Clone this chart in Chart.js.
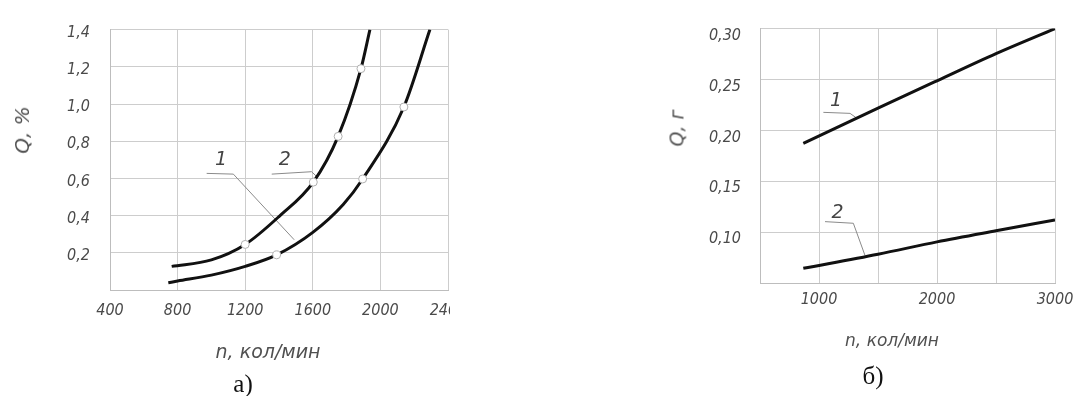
<!DOCTYPE html>
<html lang="ru">
<head>
<meta charset="utf-8">
<script src="https://cdn.jsdelivr.net/npm/chart.js@4.4.1/dist/chart.umd.min.js"></script>
<style>
  html, body { margin: 0; padding: 0; background: #fff; }
  body { width: 1081px; height: 396px; position: relative; overflow: hidden; }
  .box { position: absolute; top: 0; height: 396px; overflow: hidden; }
  #boxA { left: 0; width: 450px; }
  #boxB { left: 640px; width: 441px; }
  .txt {
    position: absolute; color: #505050; font-style: italic; white-space: nowrap; line-height: 1;
    font-family: "DejaVu Sans", sans-serif;
  }
  .ytitle { transform: translate(-50%, -50%) rotate(-90deg); }
  .xtitle { transform: translate(-50%, -50%); }
  .cap {
    position: absolute; font-family: "Liberation Serif", serif; font-size: 25px; color: #111;
    transform: translate(-50%, -50%); line-height: 1;
  }
</style>
</head>
<body>
<div class="box" id="boxA"><canvas id="chartA" width="480" height="396"></canvas></div>
<div class="box" id="boxB"><canvas id="chartB" width="441" height="396"></canvas></div>

<div class="txt ytitle" style="left:22px; top:130px; font-size:20px;">Q, %</div>
<div class="txt xtitle" style="left:268px; top:351px; font-size:19px;">n, кол/мин</div>
<div class="cap" style="left:243px; top:383px;">а)</div>

<div class="txt ytitle" style="left:677px; top:128px; font-size:19px;">Q, г</div>
<div class="txt xtitle" style="left:892px; top:340px; font-size:17px;">n, кол/мин</div>
<div class="cap" style="left:873px; top:375px;">б)</div>

<script>
  "use strict";

  // --- chart a): Q, % vs n, кол/мин ---
  const A_CURVE1_N = [745, 800, 1000, 1200, 1386, 1600, 1780, 1895, 2139, 2293];
  const A_CURVE1_Q = [0.039, 0.048, 0.08, 0.127, 0.189, 0.31, 0.46, 0.597, 0.984, 1.40];
  const A_CURVE2_N = [765, 1000, 1200, 1400, 1603, 1750, 1885, 1938];
  const A_CURVE2_Q = [0.127, 0.162, 0.245, 0.395, 0.58, 0.826, 1.19, 1.40];
  const A_MARK1_N = [1386, 1895, 2139];
  const A_MARK1_Q = [0.189, 0.597, 0.984];
  const A_MARK2_N = [1200, 1603, 1750, 1885];
  const A_MARK2_Q = [0.245, 0.58, 0.826, 1.19];
  const A_X_TICKS = [400, 800, 1200, 1600, 2000, 2400];
  const A_Y_TICKS = [0, 0.2, 0.4, 0.6, 0.8, 1.0, 1.2, 1.4];
  const A_LABELS = [
    { text: "1", n: 1057, q: 0.70 },
    { text: "2", n: 1435, q: 0.70 },
  ];
  const A_LEADERS = [
    [[972, 0.627], [1130, 0.623], [1490, 0.27]],
    [[1357, 0.623], [1593, 0.636], [1623, 0.61]],
  ];

  // --- chart б): Q, г vs n, кол/мин ---
  const B_LINE1_N = [867, 1500, 2000, 2500, 3000];
  const B_LINE1_Q = [0.1872, 0.2218, 0.2487, 0.2754, 0.30];
  const B_LINE2_N = [867, 1500, 2000, 2500, 3000];
  const B_LINE2_Q = [0.0644, 0.0783, 0.0904, 0.1013, 0.1119];
  const B_X_TICKS = [500, 1000, 1500, 2000, 2500, 3000];
  const B_X_LABELED = [1000, 2000, 3000];
  const B_Y_TICKS = [0.05, 0.10, 0.15, 0.20, 0.25, 0.30];
  const B_LABELS = [
    { text: "1", n: 1144, q: 0.229 },
    { text: "2", n: 1158, q: 0.1192 },
  ];
  const B_LEADERS = [
    [[1037, 0.2177], [1263, 0.2167], [1320, 0.212]],
    [[1051, 0.1103], [1291, 0.1087], [1390, 0.077]],
  ];

  const TICK_FONT = { family: '"DejaVu Sans Condensed", "DejaVu Sans", sans-serif', size: 16, style: "italic" };
  const TICK_COLOR = "#4a4a4a";
  const GRID_COLOR = "#cdcdcd";

  function pts(xs, ys) {
    return xs.map(function (x, i) { return { x: x, y: ys[i] }; });
  }

  function curve(xs, ys) {
    return {
      type: "line",
      data: pts(xs, ys),
      borderColor: "#111",
      borderWidth: 3,
      pointRadius: 0,
      cubicInterpolationMode: "monotone",
      fill: false,
      order: 2,
    };
  }

  function markers(xs, ys) {
    return {
      type: "scatter",
      data: pts(xs, ys),
      pointRadius: 4,
      pointBackgroundColor: "#fff",
      pointBorderColor: "#b0b0b0",
      pointBorderWidth: 1,
      showLine: false,
      order: 1,
    };
  }

  // draws the "1" / "2" callouts with their thin leader lines
  function calloutPlugin(labels, leaders) {
    return {
      id: "callouts",
      beforeDatasetsDraw: function (chart) {
        const ctx = chart.ctx;
        const xs = chart.scales.x;
        const ys = chart.scales.y;
        ctx.save();
        ctx.strokeStyle = "#8a8a8a";
        ctx.lineWidth = 1;
        leaders.forEach(function (line) {
          ctx.beginPath();
          line.forEach(function (p, i) {
            const px = xs.getPixelForValue(p[0]);
            const py = ys.getPixelForValue(p[1]);
            if (i === 0) ctx.moveTo(px, py); else ctx.lineTo(px, py);
          });
          ctx.stroke();
        });
        ctx.fillStyle = "#444";
        ctx.font = 'italic 19px "DejaVu Sans", sans-serif';
        ctx.textAlign = "center";
        ctx.textBaseline = "middle";
        labels.forEach(function (l) {
          ctx.fillText(l.text, xs.getPixelForValue(l.n), ys.getPixelForValue(l.q));
        });
        ctx.restore();
      },
    };
  }

  function baseScales(o) {
    return {
      x: {
        type: "linear",
        min: o.xTicks[0],
        max: o.xTicks[o.xTicks.length - 1],
        afterBuildTicks: function (s) { s.ticks = o.xTicks.map(function (v) { return { value: v }; }); },
        afterFit: function (s) { s.height = o.xHeight; },
        ticks: {
          font: TICK_FONT,
          color: TICK_COLOR,
          padding: o.xPad,
          maxRotation: 0,
          autoSkip: false,
          callback: o.xFmt,
        },
        grid: { color: GRID_COLOR, lineWidth: 1, drawTicks: false },
        border: { color: "#bdbdbd" },
      },
      y: {
        type: "linear",
        min: o.yTicks[0],
        max: o.yTicks[o.yTicks.length - 1],
        afterBuildTicks: function (s) { s.ticks = o.yTicks.map(function (v) { return { value: v }; }); },
        afterFit: function (s) { s.width = o.yWidth; },
        ticks: {
          font: TICK_FONT,
          color: TICK_COLOR,
          padding: o.yPad,
          labelOffset: o.yLabelOffset,
          callback: o.yFmt,
        },
        grid: { color: GRID_COLOR, lineWidth: 1, drawTicks: false },
        border: { color: "#bdbdbd" },
      },
    };
  }

  function commonOptions(padding, scales) {
    return {
      responsive: false,
      animation: false,
      events: [],
      layout: { autoPadding: false, padding: padding },
      plugins: { legend: { display: false }, tooltip: { enabled: false } },
      scales: scales,
    };
  }

  new Chart(document.getElementById("chartA"), {
    type: "line",
    data: {
      datasets: [
        curve(A_CURVE1_N, A_CURVE1_Q),
        curve(A_CURVE2_N, A_CURVE2_Q),
        markers(A_MARK1_N, A_MARK1_Q),
        markers(A_MARK2_N, A_MARK2_Q),
      ],
    },
    options: commonOptions(
      { left: 0, top: 23, right: 32, bottom: 0 },
      baseScales({
        xTicks: A_X_TICKS,
        yTicks: A_Y_TICKS,
        xHeight: 106,
        yWidth: 110,
        xPad: 11,
        yPad: 20,
        yLabelOffset: 3,
        xFmt: function (v) { return String(v); },
        yFmt: function (v) { return v === 0 ? "" : v.toFixed(1).replace(".", ","); },
      })
    ),
    plugins: [calloutPlugin(A_LABELS, A_LEADERS)],
  });

  new Chart(document.getElementById("chartB"), {
    type: "line",
    data: {
      datasets: [
        curve(B_LINE1_N, B_LINE1_Q),
        curve(B_LINE2_N, B_LINE2_Q),
      ],
    },
    options: commonOptions(
      { left: 0, top: 23, right: 26, bottom: 0 },
      baseScales({
        xTicks: B_X_TICKS,
        yTicks: B_Y_TICKS,
        xHeight: 113,
        yWidth: 120,
        xPad: 7,
        yPad: 19,
        yLabelOffset: 7,
        xFmt: function (v) { return B_X_LABELED.indexOf(v) === -1 ? "" : String(v); },
        yFmt: function (v) { return Math.abs(v - 0.05) < 1e-9 ? "" : v.toFixed(2).replace(".", ","); },
      })
    ),
    plugins: [calloutPlugin(B_LABELS, B_LEADERS)],
  });
</script>
</body>
</html>
